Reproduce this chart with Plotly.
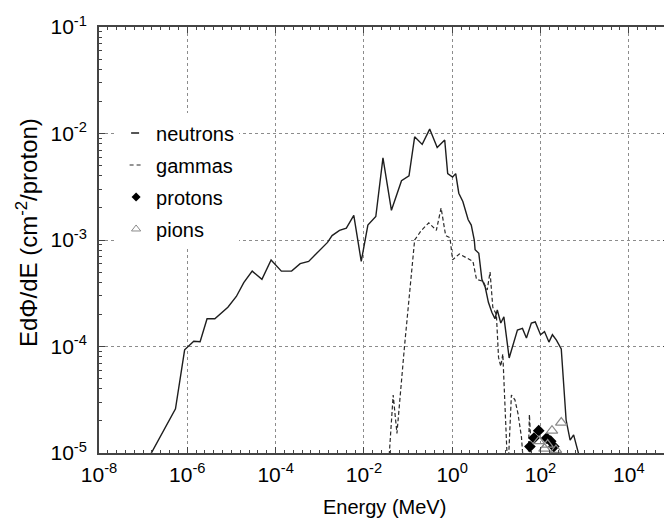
import plotly.graph_objects as go

# ---------------- data ----------------
neutron_energy = [1.2e-7, 5.4e-7, 8.7e-7, 1.4e-6, 1.95e-6, 2.8e-6, 4.2e-6, 8.3e-6, 1.29e-5, 1.9e-5,
                  2.95e-5, 4.9e-5, 7.9e-5, 1.35e-4, 2.3e-4, 3.6e-4, 5.6e-4, 9.1e-4, 1.5e-3, 1.9e-3,
                  2.8e-3, 4.0e-3, 5.9e-3, 8.7e-3, 1.23e-2, 1.86e-2, 2.7e-2, 4.2e-2, 7.1e-2, 0.105,
                  0.141, 0.209, 0.309, 0.457, 0.676, 0.79, 1.02, 1.2, 1.41, 1.74,
                  2.3, 2.7, 3.16, 3.3, 4.0, 4.7, 5.6, 6.6, 7.9, 9.3,
                  10.5, 12.6, 14.8, 19.5, 22.9, 30, 39, 48, 62, 76,
                  100, 123, 155, 186, 229, 295, 380, 468, 562, 741, 830]
neutron_flux = [8.3e-6, 2.6e-5, 9.3e-5, 1.12e-4, 1.11e-4, 1.82e-4, 1.82e-4, 2.34e-4, 2.95e-4, 3.98e-4,
                5.1e-4, 4.27e-4, 6.5e-4, 5.1e-4, 5.1e-4, 6.0e-4, 6.3e-4, 7.8e-4, 9.5e-4, 1.1e-3,
                1.23e-3, 1.29e-3, 1.7e-3, 6.3e-4, 1.38e-3, 1.66e-3, 5.9e-3, 1.9e-3, 3.6e-3, 4.0e-3,
                9.3e-3, 7.9e-3, 1.1e-2, 7.4e-3, 8.7e-3, 4.2e-3, 3.9e-3, 4.2e-3, 2.75e-3, 2.3e-3,
                1.55e-3, 1.38e-3, 1.0e-3, 8.1e-4, 7.5e-4, 4.27e-4, 3.6e-4, 2.6e-4, 2.1e-4, 1.82e-4,
                2.2e-4, 1.66e-4, 1.9e-4, 7.8e-5, 1.0e-4, 1.43e-4, 1.48e-4, 1.2e-4, 1.66e-4, 1.7e-4,
                1.29e-4, 1.38e-4, 1.1e-4, 1.29e-4, 1.15e-4, 9.5e-5, 2.04e-5, 1.32e-5, 1.48e-5, 1.0e-5, 8.0e-6]

gamma_energy = [3.5e-2, 4.6e-2, 5.6e-2, 8.3e-2, 0.141, 0.2, 0.295, 0.437, 0.56, 0.71,
                0.89, 1.02, 1.45, 2.14, 2.95, 3.55, 4.2, 5.0, 6.2, 7.2,
                8.3, 10, 11.2, 12.6, 14.0, 17, 18.2, 21.9, 26.3, 30.9,
                37, 42.7, 52, 56, 62, 66]
gamma_flux = [6.3e-6, 3.5e-5, 1.53e-5, 1.0e-4, 1.0e-3, 1.23e-3, 1.45e-3, 1.23e-3, 2.0e-3, 1.1e-3,
              1.05e-3, 6.5e-4, 7.4e-4, 6.8e-4, 6.3e-4, 4.27e-4, 4.2e-4, 4.1e-4, 3.4e-4, 5.0e-4,
              2.34e-4, 2.0e-4, 7.9e-5, 6.5e-5, 8.5e-5, 8.0e-6, 6.3e-6, 3.5e-5, 3.16e-5, 2.34e-5,
              1.41e-5, 6.3e-6, 6.3e-6, 2.3e-5, 1.23e-5, 6.3e-6]

proton_energy = [57.5, 71, 91, 138, 170, 200]
proton_flux = [1.15e-5, 1.38e-5, 1.62e-5, 1.38e-5, 1.29e-5, 1.15e-5]

pion_energy = [91, 123, 145, 182, 224, 295]
pion_flux = [1.29e-5, 1.1e-5, 1.2e-5, 1.62e-5, 1.07e-5, 1.93e-5]

series_names = ["neutrons", "gammas", "protons", "pions"]
x_title = "Energy (MeV)"
y_title = "EdΦ/dE (cm<sup>-2</sup>/proton)"

x_tick_vals = [1e-8, 1e-6, 1e-4, 1e-2, 1e0, 1e2, 1e4]
x_tick_text = ["10<sup>-8</sup>", "10<sup>-6</sup>", "10<sup>-4</sup>", "10<sup>-2</sup>",
               "10<sup>0</sup>", "10<sup>2</sup>", "10<sup>4</sup>"]
y_tick_vals = [1e-5, 1e-4, 1e-3, 1e-2, 1e-1]
y_tick_text = ["10<sup>-5</sup>", "10<sup>-4</sup>", "10<sup>-3</sup>", "10<sup>-2</sup>", "10<sup>-1</sup>"]

# ---------------- styling ----------------
FONT = "Liberation Sans, Arial, sans-serif"
LINE_C = "#1e1e1e"
GAMMA_C = "#2a2a2a"
PION_C = "#8a8a8a"
AXIS_C = "#444444"
GRID_C = "#8c8c8c"

x_minor = [10 ** (k * 0.2) for k in range(-40, 25) if k % 10 != 0]
y_minor = [m * 10.0 ** e for e in range(-5, -1) for m in range(2, 10)]

fig = go.Figure()

fig.add_trace(go.Scatter(x=neutron_energy, y=neutron_flux, mode="lines", name=series_names[0],
                         legendgroup="n", showlegend=False,
                         line=dict(color=LINE_C, width=1.4)))
fig.add_trace(go.Scatter(x=gamma_energy, y=gamma_flux, mode="lines", name=series_names[1],
                         legendgroup="g", showlegend=False,
                         line=dict(color=GAMMA_C, width=1.2, dash="4px,2.5px")))
fig.add_trace(go.Scatter(x=proton_energy, y=proton_flux, mode="markers", name=series_names[2],
                         legendgroup="p", showlegend=False, cliponaxis=True,
                         marker=dict(symbol="diamond", size=9, color="black",
                                     line=dict(width=0))))
fig.add_trace(go.Scatter(x=pion_energy, y=pion_flux, mode="markers", name=series_names[3],
                         legendgroup="pi", showlegend=False, cliponaxis=True,
                         marker=dict(symbol="triangle-up-open", size=10, color=PION_C,
                                     line=dict(width=1.2, color=PION_C))))

# legend entries (short symbols like the reference)
fig.add_trace(go.Scatter(x=[None], y=[None], mode="lines", name=series_names[0], legendgroup="n",
                         line=dict(color=LINE_C, width=1.5, dash="0px,10px,8px,200px")))
fig.add_trace(go.Scatter(x=[None], y=[None], mode="lines", name=series_names[1], legendgroup="g",
                         line=dict(color=GAMMA_C, width=1.2, dash="0px,8.5px,4px,3px,4px,200px")))
fig.add_trace(go.Scatter(x=[None], y=[None], mode="markers", name=series_names[2], legendgroup="p",
                         marker=dict(symbol="diamond", size=7, color="black")))
fig.add_trace(go.Scatter(x=[None], y=[None], mode="markers", name=series_names[3], legendgroup="pi",
                         marker=dict(symbol="triangle-up-open", size=8, color=PION_C,
                                     line=dict(width=1, color=PION_C))))

axis_common = dict(
    type="log", showline=True, linecolor=AXIS_C, linewidth=1.8, mirror="all",
    ticks="inside", ticklen=6, tickwidth=1, tickcolor=AXIS_C,
    showgrid=True, gridcolor=GRID_C, griddash="dot", gridwidth=1,
    zeroline=False, tickfont=dict(family=FONT, size=21, color="black"),
    tickmode="array",
)

fig.update_xaxes(
    **axis_common, range=[-8, 4.91], tickvals=x_tick_vals, ticktext=x_tick_text,
    ticklabelstandoff=2,
    minor=dict(tickmode="array", tickvals=x_minor, ticks="inside", ticklen=3, tickcolor=AXIS_C, showgrid=False),
)
fig.update_yaxes(
    **axis_common, range=[-5, -1], tickvals=y_tick_vals, ticktext=y_tick_text,
    ticklabelstandoff=6,
    minor=dict(tickmode="array", tickvals=y_minor, ticks="inside", ticklen=3, tickcolor=AXIS_C, showgrid=False),
)

# axis titles placed exactly as in the reference
fig.add_annotation(text=x_title, xref="paper", yref="paper", x=0.5, y=0, xanchor="center",
                   yanchor="middle", yshift=-54, showarrow=False,
                   font=dict(family=FONT, size=20, color="black"))
fig.add_annotation(text=y_title, xref="paper", yref="paper", x=0, y=0.5, xanchor="center",
                   yanchor="middle", xshift=-72, yshift=7, textangle=-90, showarrow=False,
                   font=dict(family=FONT, size=24, color="black"))

# the page body adds an 8px offset, so the figure is 8px smaller than the window
fig.update_layout(
    width=664, height=510,
    margin=dict(l=91, r=3, t=19, b=65, autoexpand=False),
    paper_bgcolor="white", plot_bgcolor="white",
    font=dict(family=FONT, size=20, color="black"),
    showlegend=True,
    legend=dict(x=0.03, y=0.797, xanchor="left", yanchor="top", bgcolor="white",
                borderwidth=0, tracegroupgap=3, itemwidth=30,
                font=dict(family=FONT, size=20, color="black")),
)

fig.write_html("out.html")
